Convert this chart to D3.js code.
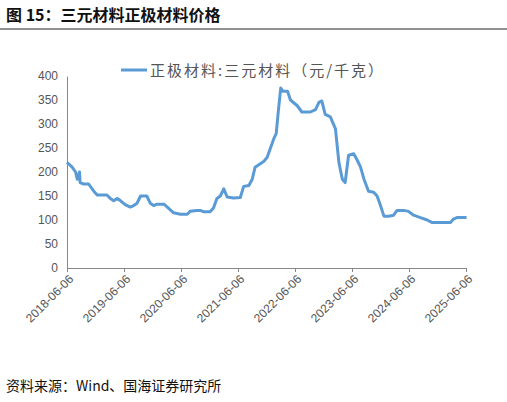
<!DOCTYPE html>
<html><head><meta charset="utf-8">
<script src="https://cdn.jsdelivr.net/npm/d3@7"></script>
<style>body{margin:0;background:#fff;font-family:"Noto Sans CJK SC",sans-serif}</style>
</head><body>
<script>
// decimal year positions and price values (元/千克)
const years = [2018.43,2018.52,2018.58,2018.61,2018.65,2018.66,2018.72,2018.81,2018.90,2018.96,2019.13,2019.19,2019.25,2019.31,2019.37,2019.45,2019.54,2019.60,2019.66,2019.72,2019.83,2019.89,2019.95,2020.01,2020.13,2020.18,2020.30,2020.42,2020.54,2020.59,2020.71,2020.77,2020.83,2020.94,2021.00,2021.06,2021.12,2021.18,2021.24,2021.35,2021.47,2021.53,2021.62,2021.68,2021.73,2021.88,2021.94,2022.00,2022.06,2022.10,2022.14,2022.18,2022.22,2022.30,2022.35,2022.47,2022.55,2022.70,2022.79,2022.85,2022.90,2022.96,2023.05,2023.14,2023.20,2023.26,2023.31,2023.37,2023.46,2023.52,2023.58,2023.64,2023.72,2023.81,2023.87,2023.93,2023.99,2024.07,2024.16,2024.22,2024.34,2024.42,2024.51,2024.63,2024.75,2024.83,2024.98,2025.16,2025.21,2025.27,2025.44];
const prices = [220,210,200,185,200,178,175,175,160,152,152,145,140,145,140,132,127,130,135,150,150,135,130,133,133,128,115,112,112,118,120,120,117,117,125,145,150,165,148,146,147,170,172,185,210,222,230,250,270,280,330,375,368,368,350,338,325,325,330,345,348,320,315,290,220,185,178,235,238,225,210,185,160,158,150,130,108,108,110,120,120,118,110,105,100,95,95,95,102,105,105];
const tickYears = [2018.43,2019.43,2020.43,2021.43,2022.43,2023.43,2024.43,2025.43];
const tickLabels = ["2018-06-06","2019-06-06","2020-06-06","2021-06-06","2022-06-06","2023-06-06","2024-06-06","2025-06-06"];
const yTicks = [0,50,100,150,200,250,300,350,400];
const seriesName = "正极材料:三元材料（元/千克）";

const W = 507, H = 402;
const m = {left: 67, right: 41, top: 76, bottom: 134};
const svg = d3.select("body").append("svg").attr("width", W).attr("height", H);

svg.append("text").attr("x", 6).attr("y", 21).attr("font-size", 16).attr("font-weight", "bold")
  .attr("fill", "#111").text("图 15：三元材料正极材料价格");
svg.append("line").attr("x1", 0).attr("x2", W).attr("y1", 29).attr("y2", 29)
  .attr("stroke", "#222").attr("stroke-width", 1);

const x = d3.scaleLinear().domain([2018.43, 2025.43]).range([m.left, W - m.right]);
const y = d3.scaleLinear().domain([0, 400]).range([H - m.bottom, m.top]);

// y axis
const ya = svg.append("g").attr("transform", `translate(${m.left},0)`)
  .call(d3.axisLeft(y).tickValues(yTicks).tickSize(0).tickPadding(9));
ya.select(".domain").attr("stroke", "#888");
ya.selectAll("text").attr("font-size", 12).attr("fill", "#555").attr("font-family", "Liberation Sans, Arial");

// x axis
const xa = svg.append("g").attr("transform", `translate(0,${H - m.bottom})`)
  .call(d3.axisBottom(x).tickValues(tickYears).tickFormat((d, i) => tickLabels[i]).tickSize(4));
xa.select(".domain").attr("stroke", "#888");
xa.selectAll("line").attr("stroke", "#888");
xa.selectAll("text").attr("font-size", 12).attr("fill", "#555").attr("font-family", "Liberation Sans, Arial")
  .attr("text-anchor", "end").attr("transform", "rotate(-45)").attr("dx", "-0.3em").attr("dy", "0.5em");

// line
const pts = years.map((d, i) => [d, prices[i]]);
svg.append("path").datum(pts)
  .attr("fill", "none").attr("stroke", "#5b9bd5").attr("stroke-width", 3)
  .attr("stroke-linejoin", "round")
  .attr("d", d3.line().x(d => x(d[0])).y(d => y(d[1])));

// legend
svg.append("line").attr("x1", 121).attr("x2", 147).attr("y1", 70).attr("y2", 70)
  .attr("stroke", "#5b9bd5").attr("stroke-width", 3);
svg.append("text").attr("x", 150).attr("y", 76).attr("font-size", 15).attr("fill", "#555")
  .attr("letter-spacing", 2).text(seriesName);

svg.append("text").attr("x", 6).attr("y", 391).attr("font-size", 14).attr("fill", "#111")
  .text("资料来源：Wind、国海证券研究所");
</script>
</body></html>
